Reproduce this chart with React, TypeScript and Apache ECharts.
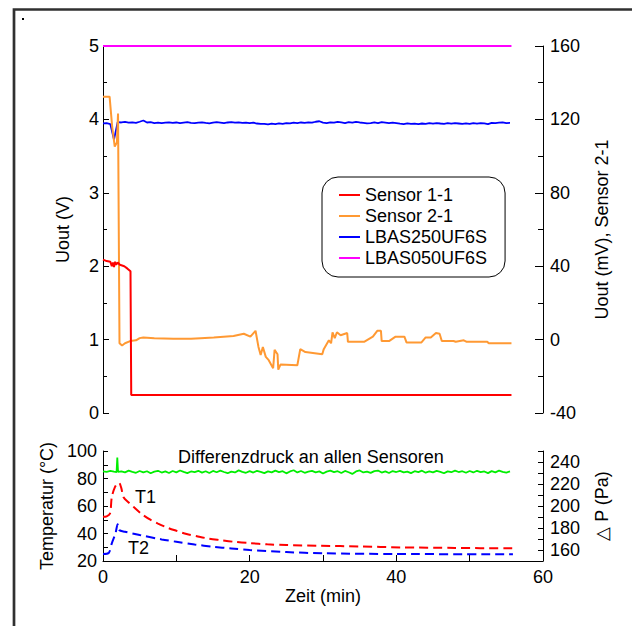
import React, { useEffect, useRef } from "react";
import * as echarts from "echarts";

// time grid (min) for the noisy traces
const gridTime = [
  0, 0.5, 1, 1.5, 2, 2.5, 3, 3.5, 4, 4.5, 5, 5.5, 6, 6.5, 7, 7.5, 8, 8.5, 9, 9.5,
  10, 10.5, 11, 11.5, 12, 12.5, 13, 13.5, 14, 14.5, 15, 15.5, 16, 16.5, 17, 17.5, 18, 18.5, 19, 19.5,
  20, 20.5, 21, 21.5, 22, 22.5, 23, 23.5, 24, 24.5, 25, 25.5, 26, 26.5, 27, 27.5, 28, 28.5, 29, 29.5,
  30, 30.5, 31, 31.5, 32, 32.5, 33, 33.5, 34, 34.5, 35, 35.5, 36, 36.5, 37, 37.5, 38, 38.5, 39, 39.5,
  40, 40.5, 41, 41.5, 42, 42.5, 43, 43.5, 44, 44.5, 45, 45.5, 46, 46.5, 47, 47.5, 48, 48.5, 49, 49.5,
  50, 50.5, 51, 51.5, 52, 52.5, 53, 53.5, 54, 54.5, 55, 55.5,
];

// LBAS250UF6S (V)
const lbas250 = [
  3.945, 3.948, 3.935, 3.725, 3.962, 3.958, 3.965, 3.955, 3.96, 3.952, 3.968, 3.985, 3.958, 3.962, 3.95, 3.957, 3.948, 3.955, 3.96, 3.952,
  3.958, 3.95, 3.956, 3.962, 3.953, 3.948, 3.955, 3.96, 3.952, 3.946, 3.955, 3.962, 3.957, 3.95, 3.958, 3.964, 3.955, 3.96, 3.952, 3.957,
  3.948, 3.955, 3.944, 3.938, 3.94, 3.932, 3.942, 3.936, 3.945, 3.94, 3.95, 3.946, 3.955, 3.95, 3.958, 3.952, 3.96, 3.955, 3.968, 3.975,
  3.956, 3.95, 3.96, 3.955, 3.966, 3.958, 3.95, 3.962, 3.955, 3.966, 3.958, 3.952, 3.945, 3.95, 3.958, 3.95, 3.962, 3.955, 3.948, 3.957,
  3.95, 3.942, 3.937, 3.945, 3.938, 3.943, 3.936, 3.944, 3.94, 3.948, 3.942, 3.95, 3.944, 3.94, 3.948, 3.942, 3.95, 3.944, 3.938, 3.946,
  3.94, 3.948, 3.943, 3.95, 3.945, 3.935, 3.952, 3.948, 3.955, 3.96, 3.95, 3.954,
];

// Differenzdruck: time (min) and value (Pa)
const dpTime = [0, 0.5, 1, 1.5, 1.85, 1.95, 2.05, 2.5, ...gridTime.slice(6)];
const deltaP = [
  231.5, 231.0, 232.0, 231.2, 230.8, 244.0, 231.0, 231.5, 230.6, 232.2, 231.0, 230.2, 231.8, 230.5, 231.6, 229.8, 231.2, 232.0, 230.4, 231.5, 230.0, 231.8,
  230.6, 232.3, 231.0, 229.9, 231.4, 230.8, 232.0, 230.3, 231.6, 230.0, 231.9, 230.7, 232.1, 230.9, 229.8, 231.3, 230.5, 232.4, 231.0, 230.2,
  231.7, 230.4, 232.0, 231.1, 229.9, 231.5, 230.6, 232.2, 230.8, 231.6, 229.7, 231.4, 232.5, 230.5, 231.8, 230.2, 231.3, 232.0, 230.6, 231.5,
  229.6, 231.2, 232.1, 230.8, 231.6, 230.0, 231.9, 230.7, 229.2, 231.4, 232.3, 230.5, 231.2, 230.1, 231.7, 232.2, 230.4, 231.5, 230.0, 231.8,
  230.9, 232.0, 230.6, 231.3, 229.9, 231.6, 230.8, 232.1, 230.3, 231.4, 230.6, 232.0, 231.1, 229.8, 231.5, 230.7, 232.2, 230.9, 231.6, 230.2,
  231.8, 230.5, 232.0, 230.8, 231.4, 229.9, 231.7, 230.6, 232.1, 231.0, 230.4, 231.5,
];

// Sensor 1-1 (V)
const s11Time = [0, 0.5, 1.0, 1.2, 1.35, 1.5, 1.65, 1.8, 2.0, 2.3, 2.9, 3.3, 3.75, 3.85, 55.7];
const s11Val = [2.09, 2.07, 2.06, 2.0, 2.05, 1.99, 2.06, 2.02, 2.05, 2.02, 2.0, 1.97, 1.93, 0.245, 0.245];

// Sensor 2-1 (mV)
const s21Time = [
  0, 0.9, 1.25, 1.6, 1.9, 2.05, 2.25, 2.6, 3.0, 3.7, 4.5, 5.0, 5.5, 7.0, 9.6, 12.0, 13.3, 15.1, 17.8, 19.2,
  20.1, 20.8, 21.2, 21.5, 21.8, 22.2, 22.6, 23.2, 23.4, 23.8, 23.9, 24.2, 26.5, 26.9, 27.6, 29.9, 30.1, 30.8, 31.1, 31.3,
  31.6, 31.9, 32.4, 33.3, 33.4, 35.6, 36.8, 37.4, 37.9, 38.0, 39.0, 39.9, 41.1, 41.4, 43.4, 44.0, 44.7, 45.4, 45.9, 46.2,
  47.8, 48.1, 49.2, 49.6, 52.4, 52.6, 55.7,
];
const s21Val = [
  132.4, 132.4, 116, 105.2, 107.5, 123.2, -2, -3.2, -2, -0.8, -0.4, 0.8, 1.2, 0.8, 0.4, 0.4, 0.8, 1.2, 2, 3.2,
  1.6, 4.8, -4, -8.4, -4, -9.4, -11.2, -15.6, -5.6, -8, -16.4, -13.6, -14, -5.2, -6.8, -8, -5.2, -0.4, -2, 4,
  0.8, 4, 2.4, 3.6, -1.2, -1.2, 1.6, 4.8, 4.8, -0.8, -0.8, 1.6, 1.6, -1.6, -1.6, 1.2, 1.2, 3.6, 3.2, -0.8,
  -0.8, -1.2, -0.4, -1.2, -1.2, -2, -2,
];

// LBAS050UF6S (V)
const s050Time = [0, 55.7];
const s050Val = [5.0, 5.0];

// T1, T2 (°C)
const t1Time = [0, 0.5, 0.96, 1.2, 1.64, 2.0, 2.2, 2.5, 2.78, 3.5, 4.15, 5.2, 6.4, 7.5, 8.7, 10, 11.4, 12.8, 14.2, 16, 17.8, 20, 22.4, 25, 29.7, 35, 40.6, 48, 55.9];
const t1Val = [52.1, 52.5, 54.6, 66.6, 73.9, 76.5, 76.8, 73, 66.6, 62.5, 59.4, 54.5, 50.2, 47.2, 44.4, 42, 39.6, 38, 36.5, 35.2, 34.0, 33.0, 32.1, 31.6, 31.1, 30.6, 29.9, 29.5, 29.2];
const t2Time = [0, 0.8, 1.2, 1.7, 2.0, 2.2, 3, 5, 8, 10, 12.5, 15, 17.5, 20, 25, 30, 40, 55.9];
const t2Val = [25.1, 26, 32.8, 40, 46.8, 42.5, 41.3, 38.9, 35.7, 34, 32, 30.4, 29.1, 28, 26.5, 25.6, 25.1, 24.9];

const seriesNames = ["Sensor 1-1", "Sensor 2-1", "LBAS250UF6S", "LBAS050UF6S"];
const xTicksLabeled = [0, 20, 40, 60];
const tempLabels = [20, 40, 60, 80, 100];
const dpLabels = [160, 180, 200, 220, 240];

const FONT = "Liberation Sans, Arial, sans-serif";

const zip = (t: number[], v: number[]) => t.map((x, i) => [x, v[i]]);

export default function App() {
  const ref = useRef<HTMLDivElement>(null);
  useEffect(() => {
    if (!ref.current) return;
    const chart = echarts.init(ref.current, undefined, { renderer: "svg" });
    const lbl = { color: "#000", fontSize: 18, fontFamily: FONT };
    const axLine = { show: true, lineStyle: { color: "#000", width: 1 } };
    const nameStyle = { color: "#000", fontSize: 18, fontFamily: FONT };
    chart.setOption({
      animation: false,
      backgroundColor: "#fff",
      textStyle: { fontFamily: FONT },
      grid: [
        { left: 103, right: 89, top: 46, height: 367 },
        { left: 103, right: 89, top: 451, height: 110 },
      ],
      legend: {
        data: seriesNames,
        orient: "vertical",
        left: 322,
        top: 177,
        icon: "rect",
        itemWidth: 21,
        itemHeight: 2,
        itemGap: 3,
        padding: [9, 18, 10, 17],
        borderColor: "#000",
        borderWidth: 1,
        borderRadius: 16,
        textStyle: { color: "#000", fontSize: 18, fontFamily: FONT },
      },
      xAxis: [
        { gridIndex: 0, type: "value", min: 0, max: 60, show: false },
        {
          gridIndex: 1,
          type: "value",
          min: 0,
          max: 60,
          interval: 10,
          axisLine: axLine,
          axisTick: { inside: true, length: 6, lineStyle: { color: "#000" } },
          axisLabel: {
            ...lbl,
            margin: 7,
            formatter: (v: number) => (xTicksLabeled.includes(v) ? String(v) : ""),
          },
          splitLine: { show: false },
          name: "Zeit (min)",
          nameLocation: "middle",
          nameGap: 26,
          nameTextStyle: nameStyle,
        },
      ],
      yAxis: [
        {
          gridIndex: 0,
          type: "value",
          min: 0,
          max: 5,
          interval: 1,
          position: "left",
          axisLine: axLine,
          axisTick: { inside: true, length: 6, lineStyle: { color: "#000" } },
          minorTick: { show: true, splitNumber: 2, length: 4, lineStyle: { color: "#000" } },
          axisLabel: { ...lbl, margin: 4 },
          splitLine: { show: false },
          name: "Uout (V)",
          nameLocation: "middle",
          nameRotate: 90,
          nameGap: 31,
          nameTextStyle: nameStyle,
        },
        {
          gridIndex: 0,
          type: "value",
          min: -40,
          max: 160,
          interval: 40,
          position: "right",
          axisLine: axLine,
          axisTick: { inside: true, length: 8, lineStyle: { color: "#000" } },
          minorTick: { show: true, splitNumber: 2, length: 5, lineStyle: { color: "#000" } },
          axisLabel: { ...lbl, margin: 7 },
          splitLine: { show: false },
          name: "Uout (mV), Sensor 2-1",
          nameLocation: "middle",
          nameRotate: 90,
          nameGap: 50,
          nameTextStyle: nameStyle,
        },
        {
          gridIndex: 1,
          type: "value",
          min: 20,
          max: 100,
          interval: 10,
          position: "left",
          axisLine: axLine,
          axisTick: { inside: true, length: 5, lineStyle: { color: "#000" } },
          axisLabel: {
            ...lbl,
            margin: 6,
            formatter: (v: number) => (tempLabels.includes(v) ? String(v) : ""),
          },
          splitLine: { show: false },
          name: "Temperatur (°C)",
          nameLocation: "middle",
          nameRotate: 90,
          nameGap: 46,
          nameTextStyle: nameStyle,
        },
        {
          gridIndex: 1,
          type: "value",
          min: 150,
          max: 250,
          interval: 10,
          position: "right",
          axisLine: axLine,
          axisTick: { inside: true, length: 5, lineStyle: { color: "#000" } },
          axisLabel: {
            ...lbl,
            margin: 7,
            formatter: (v: number) => (dpLabels.includes(v) ? String(v) : ""),
          },
          splitLine: { show: false },
          name: "△ P (Pa)",
          nameLocation: "middle",
          nameRotate: 90,
          nameGap: 50,
          nameTextStyle: nameStyle,
        },
      ],
      series: [
        {
          name: "Sensor 1-1",
          type: "line",
          xAxisIndex: 0,
          yAxisIndex: 0,
          data: zip(s11Time, s11Val),
          showSymbol: false,
          lineStyle: { color: "#ff0000", width: 2 },
          itemStyle: { color: "#ff0000" },
          z: 4,
        },
        {
          name: "Sensor 2-1",
          type: "line",
          xAxisIndex: 0,
          yAxisIndex: 1,
          data: zip(s21Time, s21Val),
          showSymbol: false,
          lineStyle: { color: "#ff9933", width: 2 },
          itemStyle: { color: "#ff9933" },
          z: 3,
        },
        {
          name: "LBAS250UF6S",
          type: "line",
          xAxisIndex: 0,
          yAxisIndex: 0,
          data: zip(gridTime, lbas250),
          showSymbol: false,
          lineStyle: { color: "#0000ff", width: 1.8 },
          itemStyle: { color: "#0000ff" },
          z: 2,
        },
        {
          name: "LBAS050UF6S",
          type: "line",
          xAxisIndex: 0,
          yAxisIndex: 0,
          data: zip(s050Time, s050Val),
          showSymbol: false,
          lineStyle: { color: "#ff00ff", width: 2 },
          itemStyle: { color: "#ff00ff" },
          z: 2,
        },
        {
          name: "ΔP",
          type: "line",
          xAxisIndex: 1,
          yAxisIndex: 3,
          data: zip(dpTime, deltaP),
          showSymbol: false,
          lineStyle: { color: "#00ee00", width: 1.8 },
          itemStyle: { color: "#00ee00" },
        },
        {
          name: "T1",
          type: "line",
          xAxisIndex: 1,
          yAxisIndex: 2,
          data: zip(t1Time, t1Val),
          showSymbol: false,
          smooth: 0.3,
          lineStyle: { color: "#ff0000", width: 2, type: [9, 5] },
          itemStyle: { color: "#ff0000" },
        },
        {
          name: "T2",
          type: "line",
          xAxisIndex: 1,
          yAxisIndex: 2,
          data: zip(t2Time, t2Val),
          showSymbol: false,
          smooth: 0.3,
          lineStyle: { color: "#0000ff", width: 2, type: [9, 5] },
          itemStyle: { color: "#0000ff" },
        },
      ],
      graphic: [
        {
          type: "polyline",
          shape: { points: [[14, 640], [14, 9.5], [650, 9.5]] },
          style: { stroke: "#303030", lineWidth: 2.7, fill: "none" },
          silent: true,
        },
        { type: "rect", shape: { x: 22, y: 18, width: 2, height: 2 }, style: { fill: "#000" } },
        {
          type: "text",
          x: 178,
          y: 457,
          style: { text: "Differenzdruck an allen Sensoren", fill: "#000", fontSize: 18, fontFamily: FONT, verticalAlign: "middle" },
        },
        {
          type: "text",
          x: 135,
          y: 497,
          style: { text: "T1", fill: "#000", fontSize: 18, fontFamily: FONT, verticalAlign: "middle" },
        },
        {
          type: "text",
          x: 128,
          y: 548,
          style: { text: "T2", fill: "#000", fontSize: 18, fontFamily: FONT, verticalAlign: "middle" },
        },
      ],
    });
    return () => chart.dispose();
  }, []);
  return (
    <div
      ref={ref}
      style={{ position: "fixed", left: 0, top: 0, width: 632, height: 626, background: "#fff" }}
    />
  );
}
